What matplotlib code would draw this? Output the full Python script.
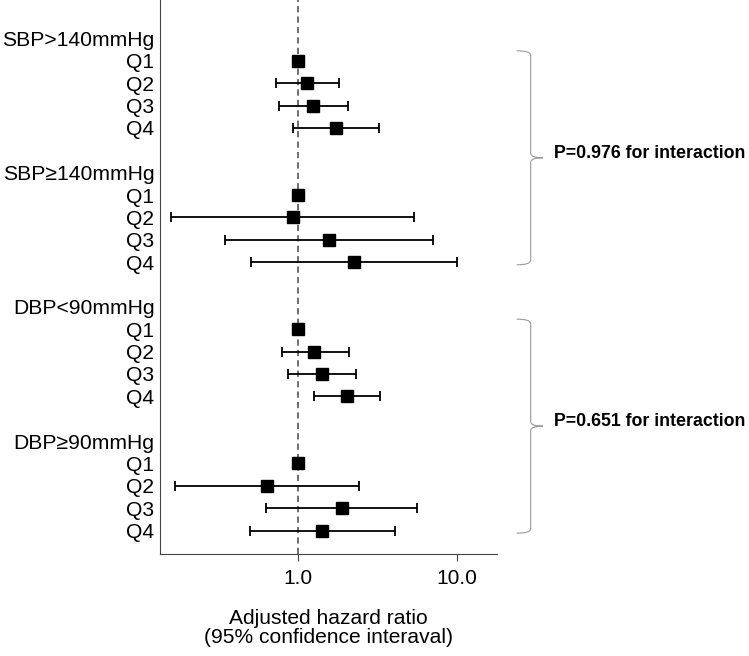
import numpy as np
import matplotlib
matplotlib.use('Agg')
import matplotlib.pyplot as plt
from matplotlib.path import Path
from matplotlib.patches import PathPatch
from matplotlib.transforms import blended_transform_factory

plt.rcParams['font.family'] = ['Liberation Sans', 'DejaVu Sans']
plt.rcParams['lines.scale_dashes'] = False

# data
groups = ['SBP>140mmHg', 'SBP≥140mmHg', 'DBP<90mmHg', 'DBP≥90mmHg']
quartiles = ['Q1', 'Q2', 'Q3', 'Q4']
hr = [[1.0, 1.15, 1.25, 1.73],
      [1.0, 0.93, 1.58, 2.25],
      [1.0, 1.27, 1.42, 2.05],
      [1.0, 0.64, 1.89, 1.42]]
lower = [[1.0, 0.73, 0.76, 0.93],
         [1.0, 0.16, 0.35, 0.51],
         [1.0, 0.79, 0.87, 1.27],
         [1.0, 0.17, 0.63, 0.50]]
upper = [[1.0, 1.82, 2.06, 3.26],
         [1.0, 5.37, 7.10, 10.0],
         [1.0, 2.09, 2.33, 3.31],
         [1.0, 2.41, 5.60, 4.09]]
p_values = ['0.976', '0.651']
xticks = [1.0, 10.0]
xticklabels = ['1.0', '10.0']

fig = plt.figure(figsize=(7.49, 6.56), dpi=100)
ax = fig.add_axes([0.2136, 0.1555, 0.4500, 0.8445])

ytick_pos = []
ytick_lab = []
for g, name in enumerate(groups):
    base = 6 * g
    ytick_pos.append(base)
    ytick_lab.append(name)
    for q in range(4):
        y = base + 1 + q
        ytick_pos.append(y)
        ytick_lab.append(quartiles[q])
        if upper[g][q] > lower[g][q]:
            ax.errorbar(hr[g][q], y,
                        xerr=[[hr[g][q] - lower[g][q]], [upper[g][q] - hr[g][q]]],
                        fmt='none', ecolor='black', elinewidth=1.3,
                        capsize=3.3, capthick=1.3, zorder=2)
        ax.plot(hr[g][q], y, marker='s', color='black', markersize=8,
                linestyle='none', zorder=3)

ax.axvline(1.0, color='#555555', lw=1.2, dashes=(4.5, 3.0), zorder=1)

ax.set_xscale('log')
ax.set_xlim(0.136, 17.9)
ax.set_ylim(23.05, -1.72)
ax.set_xticks(xticks)
ax.set_xticklabels(xticklabels, fontsize=15)
ax.xaxis.set_minor_locator(matplotlib.ticker.NullLocator())
ax.set_yticks(ytick_pos)
ax.set_yticklabels(ytick_lab, fontsize=15.2)
ax.tick_params(axis='y', length=0, pad=4)
ax.tick_params(axis='x', length=5, width=0.8, color='#444444', pad=6)
ax.set_xlabel('Adjusted hazard ratio\n(95% confidence interaval)',
              fontsize=15.1, labelpad=15, linespacing=1.0)

for s in ['top', 'right']:
    ax.spines[s].set_visible(False)
for s in ['left', 'bottom']:
    ax.spines[s].set_color('#444444')
    ax.spines[s].set_linewidth(0.8)

# braces with interaction p values
trans = blended_transform_factory(fig.transFigure, ax.transData)
x0, x1, x2 = 516.7 / 749, 530.7 / 749, 543 / 749
r = 0.2
for k, p in enumerate(p_values):
    ytop = 12 * k + 0.55
    ybot = 12 * k + 10.12
    ymid = (ytop + ybot) / 2
    verts = [(x0, ytop), (x1, ytop), (x1, ytop + r),
             (x1, ymid - r), (x1, ymid), (x2, ymid),
             (x1, ymid), (x1, ymid + r),
             (x1, ybot - r), (x1, ybot), (x0, ybot)]
    codes = [Path.MOVETO, Path.CURVE3, Path.CURVE3,
             Path.LINETO, Path.CURVE3, Path.CURVE3,
             Path.CURVE3, Path.CURVE3,
             Path.LINETO, Path.CURVE3, Path.CURVE3]
    patch = PathPatch(Path(verts, codes), facecolor='none', edgecolor='#999999',
                      lw=0.8, transform=trans, clip_on=False)
    fig.add_artist(patch)
    fig.text(554 / 749, ymid - 0.2, 'P=' + p + ' for interaction', fontsize=12.8,
             fontweight='bold', va='center', ha='left', transform=trans)

fig.savefig('out.png', dpi=100)
